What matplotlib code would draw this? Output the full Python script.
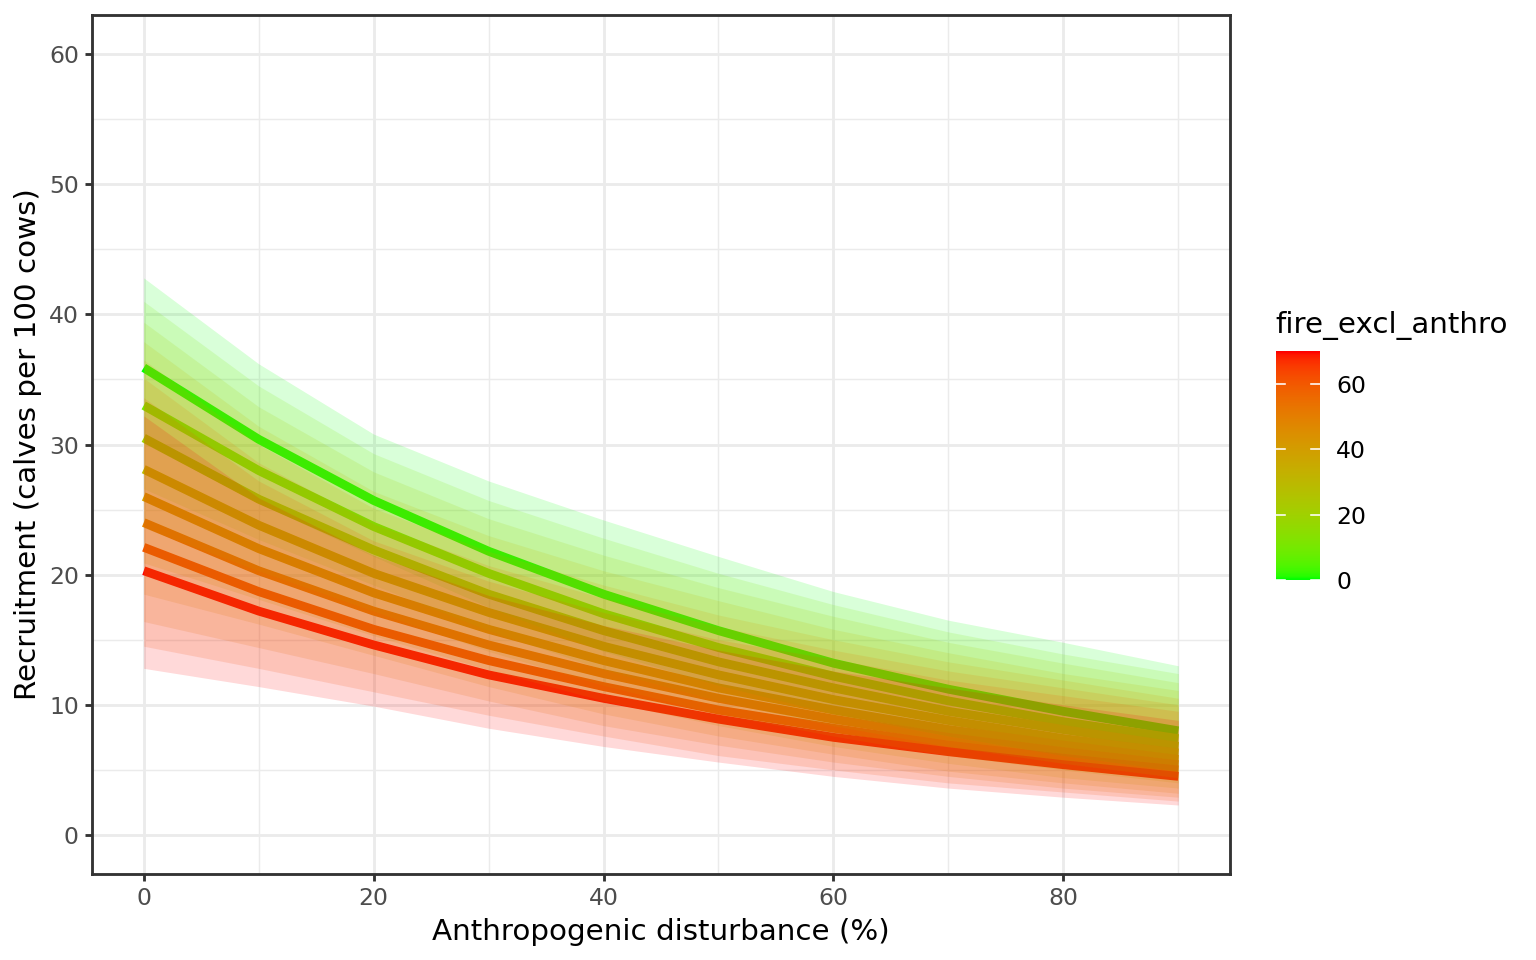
import numpy as np
import matplotlib
matplotlib.use("Agg")
import matplotlib.pyplot as plt
from matplotlib.colors import ListedColormap, Normalize

# predicted recruitment vs anthropogenic disturbance, one curve per fire level
disturbance = [0, 10, 20, 30, 40, 50, 60, 70, 80, 90]
fire_levels = [0, 10, 20, 30, 40, 50, 60, 70]

fit = [
    [35.9, 30.4, 25.7, 21.8, 18.5, 15.7, 13.2, 11.2, 9.5, 8.0],
    [33.0, 28.0, 23.7, 20.1, 17.0, 14.4, 12.2, 10.3, 8.7, 7.4],
    [30.5, 25.8, 21.9, 18.5, 15.7, 13.3, 11.3, 9.5, 8.1, 6.8],
    [28.1, 23.8, 20.1, 17.1, 14.5, 12.3, 10.4, 8.8, 7.4, 6.3],
    [26.0, 22.0, 18.6, 15.8, 13.4, 11.3, 9.6, 8.1, 6.9, 5.8],
    [24.0, 20.3, 17.2, 14.6, 12.4, 10.5, 8.9, 7.5, 6.4, 5.4],
    [22.1, 18.7, 15.8, 13.4, 11.4, 9.6, 8.2, 6.9, 5.9, 5.0],
    [20.3, 17.2, 14.6, 12.3, 10.5, 8.9, 7.5, 6.4, 5.4, 4.5],
]
upper = [
    [42.8, 36.2, 30.8, 27.2, 24.2, 21.4, 18.7, 16.5, 14.8, 13.0],
    [41.0, 34.5, 29.3, 25.7, 22.8, 20.1, 17.7, 15.6, 13.9, 12.4],
    [39.4, 32.9, 27.9, 24.3, 21.5, 19.0, 16.8, 14.8, 13.2, 11.7],
    [37.9, 31.4, 26.4, 23.0, 20.3, 18.0, 15.8, 14.0, 12.4, 11.1],
    [36.5, 30.0, 25.1, 21.8, 19.2, 16.9, 15.0, 13.3, 11.9, 10.5],
    [35.1, 28.6, 23.9, 20.7, 18.2, 16.0, 14.2, 12.6, 11.3, 10.0],
    [33.6, 27.2, 22.6, 19.5, 17.1, 15.0, 13.5, 11.9, 10.7, 9.5],
    [32.2, 25.9, 21.5, 18.4, 16.1, 14.2, 12.6, 11.3, 10.0, 8.8],
]
lower = [
    [30.1, 25.5, 21.4, 17.5, 14.1, 11.5, 9.3, 7.6, 6.1, 4.9],
    [26.6, 22.7, 19.2, 15.7, 12.7, 10.3, 8.4, 6.8, 5.5, 4.4],
    [23.6, 20.3, 17.2, 14.1, 11.5, 9.3, 7.6, 6.1, 5.0, 4.0],
    [20.9, 18.1, 15.3, 12.7, 10.3, 8.4, 6.8, 5.5, 4.4, 3.6],
    [18.5, 16.2, 13.8, 11.4, 9.3, 7.6, 6.2, 4.9, 4.0, 3.2],
    [16.4, 14.4, 12.4, 10.3, 8.4, 6.9, 5.6, 4.5, 3.6, 2.9],
    [14.5, 12.8, 11.0, 9.2, 7.6, 6.1, 5.0, 4.0, 3.3, 2.6],
    [12.8, 11.4, 9.9, 8.2, 6.8, 5.6, 4.5, 3.6, 2.9, 2.3],
]

x_ticks = [0, 20, 40, 60, 80]
y_ticks = [0, 10, 20, 30, 40, 50, 60]
bar_ticks = [0, 20, 40, 60]


# green -> red gradient interpolated in Lab, like scale_colour_gradient
def to_lab(rgb):
    c = np.asarray(rgb, float)
    c = np.where(c <= 0.04045, c / 12.92, ((c + 0.055) / 1.055) ** 2.4)
    m = np.array([[0.4124, 0.3576, 0.1805], [0.2126, 0.7152, 0.0722], [0.0193, 0.1192, 0.9505]])
    xyz = m @ c / np.array([0.95047, 1.0, 1.08883])
    f = np.where(xyz > 0.008856, np.cbrt(xyz), 7.787 * xyz + 16 / 116)
    return np.array([116 * f[1] - 16, 500 * (f[0] - f[1]), 200 * (f[1] - f[2])])


def from_lab(lab):
    fy = (lab[0] + 16) / 116
    fx = fy + lab[1] / 500
    fz = fy - lab[2] / 200
    f = np.array([fx, fy, fz])
    xyz = np.where(f ** 3 > 0.008856, f ** 3, (f - 16 / 116) / 7.787) * np.array([0.95047, 1.0, 1.08883])
    m = np.array([[3.2406, -1.5372, -0.4986], [-0.9689, 1.8758, 0.0415], [0.0557, -0.2040, 1.0570]])
    c = m @ xyz
    c = np.where(c <= 0.0031308, 12.92 * c, 1.055 * np.clip(c, 0, None) ** (1 / 2.4) - 0.055)
    return np.clip(c, 0, 1)


lo_lab, hi_lab = to_lab([0, 1, 0]), to_lab([1, 0, 0])
cmap = ListedColormap([from_lab(lo_lab + t * (hi_lab - lo_lab)) for t in np.linspace(0, 1, 256)])
norm = Normalize(0, 70)

plt.rcParams["font.family"] = "DejaVu Sans"
fig = plt.figure(figsize=(8, 5), dpi=192)
ax = fig.add_axes([92 / 1536, 1 - 874 / 960, (1230 - 92) / 1536, (874 - 15) / 960])

# grid like theme_bw
for v in [10, 30, 50, 70, 90]:
    ax.axvline(v, color="#EBEBEB", lw=0.53, zorder=0)
for v in [5, 15, 25, 35, 45, 55]:
    ax.axhline(v, color="#EBEBEB", lw=0.53, zorder=0)
for v in x_ticks:
    ax.axvline(v, color="#EBEBEB", lw=1.07, zorder=0)
for v in y_ticks:
    ax.axhline(v, color="#EBEBEB", lw=1.07, zorder=0)

for i, f in enumerate(fire_levels):
    ax.plot(disturbance, fit[i], color=cmap(norm(f)), lw=3.3, solid_capstyle="butt",
            solid_joinstyle="round", zorder=2)
for i, f in enumerate(fire_levels):
    ax.fill_between(disturbance, lower[i], upper[i], color=cmap(norm(f)), alpha=0.15, lw=0, zorder=3)

ax.set_xlim(-4.5, 94.5)
ax.set_ylim(-3, 63)
ax.set_xticks(x_ticks)
ax.set_yticks(y_ticks)
ax.tick_params(length=2.75, width=1.07, color="#333333", labelcolor="#4D4D4D", labelsize=8.8, pad=2.2)
for s in ax.spines.values():
    s.set_color("#333333")
    s.set_linewidth(1.07)
    s.set_zorder(5)
ax.set_xlabel("Anthropogenic disturbance (%)", fontsize=11, labelpad=2.75)
ax.set_ylabel("Recruitment (calves per 100 cows)", fontsize=11, labelpad=2.75)

# colour bar legend
cax = fig.add_axes([1276 / 1536, 1 - 580 / 960, 44 / 1536, 229 / 960])
grad = np.linspace(0, 70, 300).reshape(-1, 1)
cax.imshow(grad, aspect="auto", cmap=cmap, norm=norm, origin="lower", extent=[0, 1, 0, 70])
for v in bar_ticks:
    cax.plot([0, 0.2], [v, v], color="white", lw=0.6)
    cax.plot([0.8, 1], [v, v], color="white", lw=0.6)
cax.set_xlim(0, 1)
cax.set_ylim(0, 70)
cax.set_xticks([])
cax.yaxis.tick_right()
cax.set_yticks(bar_ticks)
cax.tick_params(length=0, labelsize=8.8, pad=6)
for s in cax.spines.values():
    s.set_visible(False)
fig.text(1275 / 1536, 1 - 325 / 960, "fire_excl_anthro", fontsize=11, va="center", ha="left")

fig.savefig("out.png", dpi=192)
